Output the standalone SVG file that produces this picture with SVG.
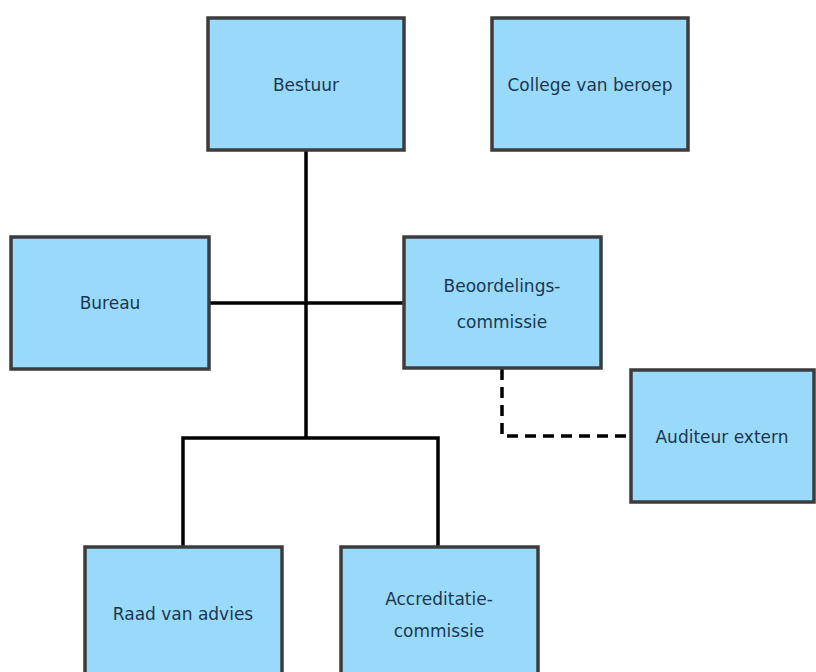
<svg xmlns="http://www.w3.org/2000/svg" width="816" height="672" viewBox="0 0 816 672">
<style>
.box{fill:#99dafa;stroke:#3c3c3c;stroke-width:3.5}
.lbl{font-family:"DejaVu Sans",sans-serif;font-size:17px;fill:#1d3650;text-anchor:middle}
.ln{fill:none;stroke:#000;stroke-width:3.5}
.dash{fill:none;stroke:#000;stroke-width:3.5;stroke-dasharray:11 7}
</style>
<rect width="816" height="672" fill="#fff"/>
<g id="connectors">
<path class="ln" d="M306 150V438"/>
<path class="ln" d="M209 303H404"/>
<path class="ln" d="M183 547V438H438V547"/>
<path class="dash" d="M502 369V436H631"/>
</g>
<g id="bestuur"><rect class="box" x="208" y="18" width="196" height="132"/><text class="lbl" x="306" y="91">Bestuur</text></g>
<g id="college"><rect class="box" x="492" y="18" width="196" height="132"/><text class="lbl" x="590" y="91">College van beroep</text></g>
<g id="bureau"><rect class="box" x="11" y="237" width="198" height="132"/><text class="lbl" x="110" y="309">Bureau</text></g>
<g id="beoordeling"><rect class="box" x="404" y="237" width="197" height="131"/><text class="lbl" x="502" y="292">Beoordelings-</text><text class="lbl" x="502" y="328">commissie</text></g>
<g id="auditeur"><rect class="box" x="631" y="370" width="183" height="132"/><text class="lbl" x="722" y="443">Auditeur extern</text></g>
<g id="raad"><rect class="box" x="85" y="547" width="197" height="140"/><text class="lbl" x="183" y="620">Raad van advies</text></g>
<g id="accreditatie"><rect class="box" x="341" y="547" width="197" height="140"/><text class="lbl" x="439" y="605">Accreditatie-</text><text class="lbl" x="439" y="637">commissie</text></g>
</svg>
